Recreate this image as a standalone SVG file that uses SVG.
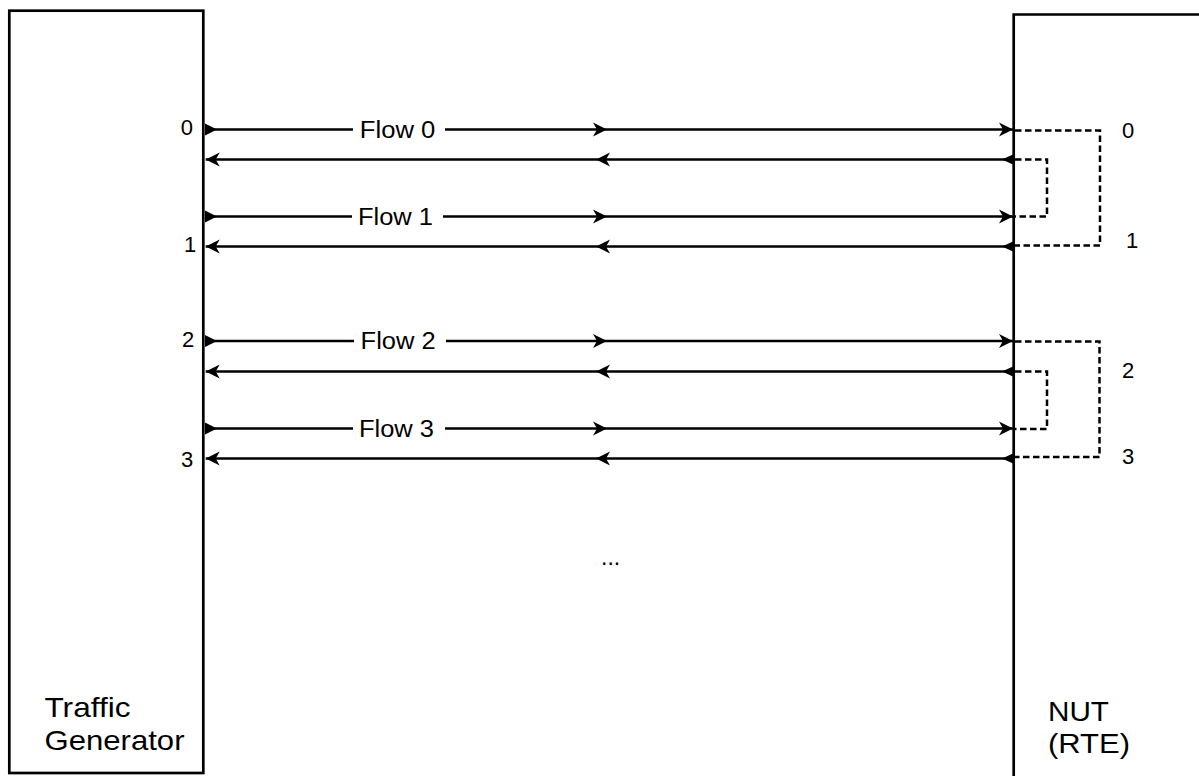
<svg xmlns="http://www.w3.org/2000/svg" width="1199" height="776" viewBox="0 0 1199 776">
<style>
.box{fill:#fff;stroke:#000;stroke-width:2.7}
.fl{fill:none;stroke:#000;stroke-width:2.5}
.dash{fill:none;stroke:#000;stroke-width:2.5;stroke-dasharray:6.5 3.5}
.t{font-family:"Liberation Sans",Arial,sans-serif;fill:#000}
.lbl{font-size:23px}
.num{font-size:22px}
.big{font-size:28px}
.bg{fill:#fff}
</style>
<defs>
<marker id="classic" viewBox="-20 -10 40 20" markerWidth="40" markerHeight="20" refX="0" refY="0" orient="auto" markerUnits="userSpaceOnUse" overflow="visible">
<path d="M0,0 L-14,-7 L-10,0 L-14,7 Z" fill="#000"/>
</marker>
<marker id="tri" viewBox="-20 -10 40 20" markerWidth="40" markerHeight="20" refX="0" refY="0" orient="auto" markerUnits="userSpaceOnUse" overflow="visible">
<path d="M0,-6 L12,0 L0,6 Z" fill="#000"/>
</marker>
<marker id="tris" viewBox="-20 -10 40 20" markerWidth="40" markerHeight="20" refX="0" refY="0" orient="auto" markerUnits="userSpaceOnUse" overflow="visible">
<path d="M0,-5 L11,0 L0,5 Z" fill="#000"/>
</marker>
</defs>
<g id="traffic-generator">
<rect class="box" x="9.3" y="10.7" width="194" height="762.3"/>
<text class="t big" x="44.5" y="717" textLength="86" lengthAdjust="spacingAndGlyphs">Traffic</text>
<text class="t big" x="44.5" y="750" textLength="140" lengthAdjust="spacingAndGlyphs">Generator</text>
<text class="t num" x="180.8" y="135">0</text>
<text class="t num" x="184" y="252">1</text>
<text class="t num" x="182" y="347">2</text>
<text class="t num" x="181" y="467">3</text>
</g>
<g id="nut">
<path class="box" d="M1013.7,800 V14.5 H1250"/>
<text class="t big" x="1048" y="721" textLength="61" lengthAdjust="spacingAndGlyphs">NUT</text>
<text class="t big" x="1048" y="753" textLength="82" lengthAdjust="spacingAndGlyphs">(RTE)</text>
<text class="t num" x="1122" y="138">0</text>
<text class="t num" x="1126" y="248">1</text>
<text class="t num" x="1122" y="378">2</text>
<text class="t num" x="1122" y="464">3</text>
</g>
<g id="connectors">
<path class="fl" d="M205,129.5 L607,129.5 L1013,129.5" marker-start="url(#tri)" marker-mid="url(#classic)" marker-end="url(#classic)"/>
<path class="fl" d="M1013,159.5 L596,159.5 L205.7,159.5" marker-start="url(#tris)" marker-mid="url(#classic)" marker-end="url(#classic)"/>
<path class="fl" d="M205,216.5 L607,216.5 L1013,216.5" marker-start="url(#tri)" marker-mid="url(#classic)" marker-end="url(#classic)"/>
<path class="fl" d="M1013,246.5 L596,246.5 L205.7,246.5" marker-start="url(#tris)" marker-mid="url(#classic)" marker-end="url(#classic)"/>
<path class="fl" d="M205,341 L607,341 L1013,341" marker-start="url(#tri)" marker-mid="url(#classic)" marker-end="url(#classic)"/>
<path class="fl" d="M1013,371.5 L596,371.5 L205.7,371.5" marker-start="url(#tris)" marker-mid="url(#classic)" marker-end="url(#classic)"/>
<path class="fl" d="M205,428.5 L607,428.5 L1013,428.5" marker-start="url(#tri)" marker-mid="url(#classic)" marker-end="url(#classic)"/>
<path class="fl" d="M1013,458.5 L596,458.5 L205.7,458.5" marker-start="url(#tris)" marker-mid="url(#classic)" marker-end="url(#classic)"/>
<path class="dash" d="M1015,130.5 H1100 V245.5 H1015"/>
<path class="dash" d="M1015,159.5 H1047 V216.5 H1015"/>
<path class="dash" d="M1015,341.5 H1099.5 V457 H1015"/>
<path class="dash" d="M1015,371.5 H1047 V429 H1015"/>
<rect class="bg" x="353" y="118" width="92" height="24"/>
<text class="t lbl" x="359.8" y="137.5" textLength="75.5" lengthAdjust="spacingAndGlyphs">Flow 0</text>
<rect class="bg" x="352" y="205" width="91" height="24"/>
<text class="t lbl" x="358" y="224.5" textLength="75" lengthAdjust="spacingAndGlyphs">Flow 1</text>
<rect class="bg" x="354" y="329" width="92" height="24"/>
<text class="t lbl" x="360.6" y="349" textLength="75" lengthAdjust="spacingAndGlyphs">Flow 2</text>
<rect class="bg" x="353" y="417" width="92" height="24"/>
<text class="t lbl" x="359" y="436.5" textLength="75" lengthAdjust="spacingAndGlyphs">Flow 3</text>
<text class="t lbl" x="601" y="565">...</text>
</g>
</svg>
